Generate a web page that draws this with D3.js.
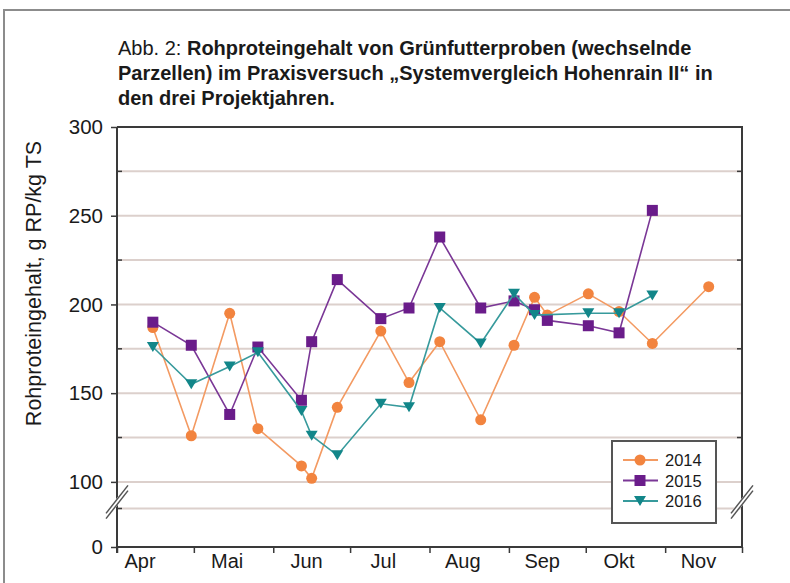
<!DOCTYPE html>
<html>
<head>
<meta charset="utf-8">
<script src="https://cdn.jsdelivr.net/npm/d3@7"></script>
<style>
    body { margin: 0; background: #fff; }
    svg { display: block; }
</style>
</head>
<body>
<svg id="chart" width="790" height="583"></svg>
<script>
// data (sampling day "MM-DD", value g RP/kg TS)
const months = ["Apr", "Mai", "Jun", "Jul", "Aug", "Sep", "Okt", "Nov"];
const yMajor = [0, 100, 150, 200, 250, 300];
const yGrid = [85, 100, 125, 150, 175, 200, 225, 250, 275];

const days2014 = ["04-15", "04-30", "05-15", "05-26", "06-12", "06-16", "06-26", "07-13", "07-24",
    "08-05", "08-21", "09-03", "09-11", "09-16", "10-02", "10-14", "10-27", "11-18"];
const vals2014 = [187, 126, 195, 130, 109, 102, 142, 185, 156, 179, 135, 177, 204, 194, 206, 196, 178, 210];

const days2015 = ["04-15", "04-30", "05-15", "05-26", "06-12", "06-16", "06-26", "07-13", "07-24",
    "08-05", "08-21", "09-03", "09-11", "09-16", "10-02", "10-14", "10-27"];
const vals2015 = [190, 177, 138, 176, 146, 179, 214, 192, 198, 238, 198, 202, 197, 191, 188, 184, 253];

const days2016 = ["04-15", "04-30", "05-15", "05-26", "06-12", "06-16", "06-26", "07-13", "07-24",
    "08-05", "08-21", "09-03", "09-11", "10-02", "10-14", "10-27"];
const vals2016 = [176, 155, 165, 173, 140, 126, 115, 144, 142, 198, 178, 206, 194, 195, 195, 205];

const series = [
    {name: "2014", days: days2014, vals: vals2014, color: "#f2843f", line: "#f39a62", shape: "circle"},
    {name: "2015", days: days2015, vals: vals2015, color: "#6a1c8a", line: "#7a3796", shape: "square"},
    {name: "2016", days: days2016, vals: vals2016, color: "#128689", line: "#379a9c", shape: "triangle"}
];

const parseDay = d3.timeParse("%Y-%m-%d");
const day = s => parseDay("2014-" + s);

const plotL = 117, plotR = 742, plotT = 127, plotB = 547;
const font = "'Liberation Sans', Arial, sans-serif";

const svg = d3.select("#chart");

// outer frame
svg.append("rect")
    .attr("x", 4).attr("y", 10)
    .attr("width", 820).attr("height", 620)
    .attr("fill", "none").attr("stroke", "#8c8c8c").attr("stroke-width", 2);

// title
const title = svg.append("text")
    .attr("font-family", font)
    .attr("font-size", 20).attr("fill", "#1a1a1a");
const tLines = [
    [["Abb. 2: ", "normal"], ["Rohproteingehalt von Grünfutterproben (wechselnde", "bold"]],
    [["Parzellen) im Praxisversuch „Systemvergleich Hohenrain II“ in", "bold"]],
    [["den drei Projektjahren.", "bold"]]
];
tLines.forEach(function (parts, i) {
    parts.forEach(function (p, j) {
        let ts = title.append("tspan").text(p[0]).attr("font-weight", p[1]);
        if (j === 0) ts.attr("x", 118).attr("y", 55 + i * 25);
    });
});

// scales (y has a break below 100)
const x = d3.scaleTime().domain([day("04-01"), day("12-01")]).range([plotL, plotR]);
const y = d3.scaleLinear().domain([0, 85, 300]).range([plotB, 508.5, plotT]);

// grid
svg.append("g").selectAll("line")
    .data(yGrid).enter().append("line")
    .attr("x1", plotL).attr("x2", plotR)
    .attr("y1", d => y(d)).attr("y2", d => y(d))
    .attr("stroke", "#dcd0cc").attr("stroke-width", 2);

// plot frame: top and right border
svg.append("path")
    .attr("d", "M" + plotL + "," + plotT + "H" + plotR + "V" + plotB)
    .attr("fill", "none").attr("stroke", "#3a3a3a").attr("stroke-width", 2);

// minor ticks on the right axis
svg.append("g").selectAll("line")
    .data([125, 175, 225, 275]).enter().append("line")
    .attr("x1", plotR - 5).attr("x2", plotR)
    .attr("y1", d => y(d)).attr("y2", d => y(d))
    .attr("stroke", "#3a3a3a").attr("stroke-width", 1.5);

// y axis
const yAxis = svg.append("g")
    .attr("transform", "translate(" + plotL + ",0)")
    .call(d3.axisLeft(y).tickValues(yMajor).tickSize(6).tickPadding(8).tickSizeOuter(0));
yAxis.select(".domain").attr("stroke", "#3a3a3a").attr("stroke-width", 2)
    .attr("d", "M0," + plotT + "V" + (plotB + 6));
yAxis.selectAll(".tick line").attr("stroke", "#3a3a3a").attr("stroke-width", 1.5);
yAxis.selectAll(".tick text").attr("font-family", font).attr("font-size", 20.5).attr("fill", "#1a1a1a");
yAxis.selectAll(".minor").data([85, 125, 175, 225, 275]).enter().append("line")
    .attr("class", "minor")
    .attr("x1", 0).attr("x2", 5)
    .attr("y1", d => y(d)).attr("y2", d => y(d))
    .attr("stroke", "#3a3a3a").attr("stroke-width", 1.5);

// x axis with month ticks, labels placed mid month
const monthStarts = d3.timeMonth.range(day("04-01"), day("12-02"));
const xAxis = svg.append("g")
    .attr("transform", "translate(0," + plotB + ")")
    .call(d3.axisBottom(x).tickValues(monthStarts).tickSize(6).tickFormat("").tickSizeOuter(0));
xAxis.select(".domain").attr("stroke", "#3a3a3a").attr("stroke-width", 2)
    .attr("d", "M" + plotL + ",0H" + plotR);
xAxis.selectAll(".tick line").attr("stroke", "#3a3a3a").attr("stroke-width", 1.5);

svg.append("g").selectAll("text")
    .data(months).enter().append("text")
    .attr("x", (d, i) => x(d3.timeDay.offset(monthStarts[i], i === 0 ? 9 : 13)))
    .attr("y", 568)
    .attr("text-anchor", "middle")
    .attr("font-family", font).attr("font-size", 20).attr("fill", "#1a1a1a")
    .text(d => d);

// y axis title
svg.append("text")
    .attr("transform", "translate(41," + ((plotT + 440) / 2) + ") rotate(-90)")
    .attr("text-anchor", "middle")
    .attr("font-family", font).attr("font-size", 21.5).attr("fill", "#1a1a1a")
    .text("Rohproteingehalt, g RP/kg TS");

// axis break marks
function drawBreak(cx, cy) {
    let g = svg.append("g");
    g.append("path")
        .attr("d", "M" + (cx - 11) + "," + (cy + 14) + "L" + (cx + 11) + "," + (cy - 14))
        .attr("stroke", "#fff").attr("stroke-width", 5);
    [-2.6, 2.6].forEach(function (o) {
        g.append("path")
            .attr("d", "M" + (cx - 11) + "," + (cy + 14 + o) + "L" + (cx + 11) + "," + (cy - 14 + o))
            .attr("stroke", "#555").attr("stroke-width", 1.5);
    });
}
drawBreak(plotL, 502);
drawBreak(plotR, 502);

// markers
function marker(sel, shape, color) {
    if (shape === "circle") {
        sel.append("circle").attr("r", 5.5).attr("fill", color);
    } else if (shape === "square") {
        sel.append("rect").attr("x", -5.5).attr("y", -5.5).attr("width", 11).attr("height", 11).attr("fill", color);
    } else {
        sel.append("path").attr("d", "M-6,-5L6,-5L0,5Z").attr("fill", color);
    }
}

const line = d3.line().x(d => x(day(d[0]))).y(d => y(d[1]));

series.forEach(function (s) {
    let pts = d3.zip(s.days, s.vals);
    let g = svg.append("g");
    g.append("path")
        .datum(pts)
        .attr("d", line)
        .attr("fill", "none").attr("stroke", s.line).attr("stroke-width", 1.6);
    g.selectAll("g.pt").data(pts).enter().append("g")
        .attr("class", "pt")
        .attr("transform", d => "translate(" + x(day(d[0])) + "," + y(d[1]) + ")")
        .each(function () { marker(d3.select(this), s.shape, s.color); });
});

// legend
const legend = svg.append("g").attr("transform", "translate(612,441)");
legend.append("rect")
    .attr("width", 104).attr("height", 82)
    .attr("fill", "#fff").attr("stroke", "#555").attr("stroke-width", 2);
series.forEach(function (s, i) {
    let row = legend.append("g").attr("transform", "translate(0," + (19 + i * 20.5) + ")");
    row.append("line").attr("x1", 11).attr("x2", 46).attr("stroke", s.line).attr("stroke-width", 2);
    marker(row.append("g").attr("transform", "translate(28,0)"), s.shape, s.color);
    row.append("text")
        .attr("x", 53).attr("y", 6)
        .attr("font-family", font).attr("font-size", 16.5).attr("fill", "#1a1a1a")
        .text(s.name);
});
</script>
</body>
</html>
